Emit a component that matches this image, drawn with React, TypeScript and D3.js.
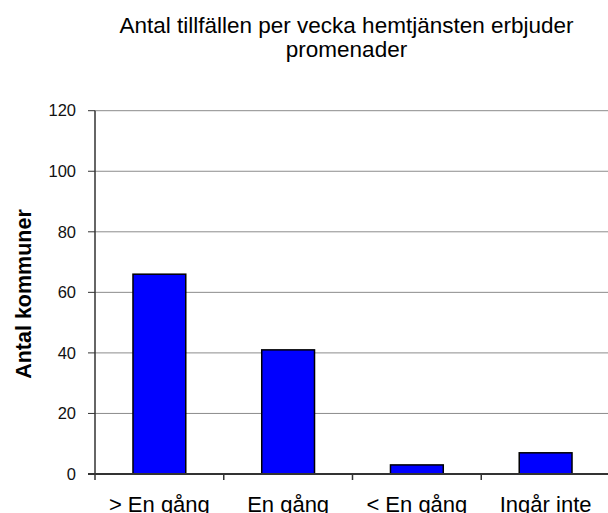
import * as d3 from 'd3';

const categories = ['> En gång', 'En gång', '< En gång', 'Ingår inte'];
const values = [66, 41, 3, 7];
const yTicks = [0, 20, 40, 60, 80, 100, 120];
const titleLines = ['Antal tillfällen per vecka hemtjänsten erbjuder', 'promenader'];
const yLabel = 'Antal kommuner';

export default function App() {
  const width = 608;
  const height = 513;
  const left = 95;
  const right = 610;
  const top = 110.7;
  const bottom = 474;

  const x = d3.scaleBand<string>().domain(categories).range([left, right]).paddingInner(0.59).paddingOuter(0.295);
  const band = d3.scaleBand<string>().domain(categories).range([left, right]);
  const y = d3.scaleLinear().domain([0, 120]).range([bottom, top]);

  const font = 'Arial, "Liberation Sans", sans-serif';

  return (
    <svg width={width} height={height} style={{ position: 'absolute', left: 0, top: 0, background: '#fff' }}>
      {titleLines.map((t, i) => (
        <text key={i} x={346.5} y={33 + i * 24} textAnchor="middle" fontFamily={font} fontSize={22.5} fill="#000">
          {t}
        </text>
      ))}
      {/* gridlines */}
      {yTicks.filter((t) => t > 0).map((t) => (
        <line key={t} x1={left} x2={right} y1={y(t)} y2={y(t)} stroke="#8c8c8c" strokeWidth={1} />
      ))}
      {/* y ticks */}
      {yTicks.map((t) => (
        <g key={t}>
          <line x1={left - 7} x2={left} y1={y(t)} y2={y(t)} stroke="#333" strokeWidth={1} />
          <text x={76} y={y(t)} dy="0.35em" textAnchor="end" fontFamily={font} fontSize={16.5} fill="#111">
            {t}
          </text>
        </g>
      ))}
      {/* bars */}
      {categories.map((c, i) => (
        <rect
          key={c}
          x={x(c)}
          y={y(values[i])}
          width={x.bandwidth()}
          height={bottom - y(values[i])}
          fill="#0000ff"
          stroke="#000"
          strokeWidth={1.5}
        />
      ))}
      {/* axes */}
      <line x1={left} x2={left} y1={top} y2={bottom + 6} stroke="#333" strokeWidth={1.5} />
      <line x1={left - 7} x2={right} y1={bottom} y2={bottom} stroke="#333" strokeWidth={2} />
      {categories.map((c) => (
        <line key={c} x1={(band(c) ?? 0) + band.bandwidth()} x2={(band(c) ?? 0) + band.bandwidth()} y1={bottom} y2={bottom + 6} stroke="#333" strokeWidth={1.5} />
      ))}
      {categories.map((c) => (
        <text key={c} x={(band(c) ?? 0) + band.bandwidth() / 2} y={512} textAnchor="middle" fontFamily={font} fontSize={22} fill="#000">
          {c}
        </text>
      ))}
      <text
        transform={`translate(31, 294) rotate(-90)`}
        textAnchor="middle"
        fontFamily={font}
        fontSize={21.5}
        fontWeight="bold"
        fill="#000"
      >
        {yLabel}
      </text>
    </svg>
  );
}
